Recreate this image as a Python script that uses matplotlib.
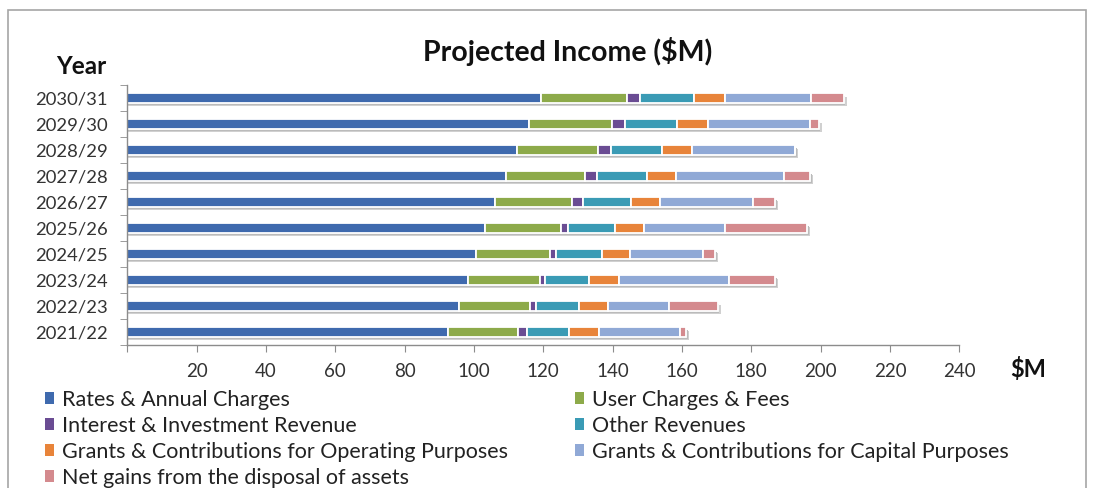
import matplotlib
matplotlib.use("Agg")
import matplotlib.pyplot as plt
from matplotlib.patches import Rectangle, Patch
import numpy as np

plt.rcParams['font.family'] = ['Lato', 'DejaVu Sans']

years = ["2021/22", "2022/23", "2023/24", "2024/25", "2025/26",
         "2026/27", "2027/28", "2028/29", "2029/30", "2030/31"]

rates_annual = [92.6, 95.8, 98.2, 100.6, 103.3, 106.1, 109.3, 112.4, 115.8, 119.3]
user_charges = [20.2, 20.4, 20.8, 21.4, 21.9, 22.3, 22.8, 23.4, 23.9, 24.7]
interest_inv = [2.4, 1.6, 1.4, 1.8, 2.0, 3.0, 3.5, 3.6, 3.8, 4.0]
other_rev = [12.3, 12.4, 12.8, 13.1, 13.6, 13.9, 14.2, 14.7, 15.1, 15.5]
grants_operating = [8.7, 8.5, 8.6, 8.0, 8.2, 8.4, 8.6, 8.8, 8.9, 9.0]
grants_capital = [23.2, 17.7, 31.7, 21.2, 23.3, 26.8, 31.0, 29.8, 29.4, 24.8]
net_gains = [1.7, 13.9, 13.3, 3.4, 23.7, 6.3, 7.5, 0.0, 2.5, 9.3]

series_names = ["Rates & Annual Charges", "User Charges & Fees",
                "Interest & Investment Revenue", "Other Revenues",
                "Grants & Contributions for Operating Purposes",
                "Grants & Contributions for Capital Purposes",
                "Net gains from the disposal of assets"]
series_values = [rates_annual, user_charges, interest_inv, other_rev,
                 grants_operating, grants_capital, net_gains]
colors = ["#3F6AAE", "#8DAA4A", "#6A4C93", "#3A9BB5",
          "#E8843A", "#90A9D6", "#D48A8E"]

x_ticks = [20, 40, 60, 80, 100, 120, 140, 160, 180, 200, 220, 240]

W, H = 1094, 488
fig = plt.figure(figsize=(W / 100, H / 100), dpi=100)
ax = fig.add_axes([127.3 / W, 1 - 345 / H, (959.3 - 127.3) / W, (345 - 85) / H])

y = np.arange(len(years))
bar_h = 0.37

# soft drop shadow under each stacked bar
totals = np.sum(np.array(series_values), axis=0)
ax.barh(y - 0.13, totals + 0.6, height=bar_h, left=0.3, color="#D0D0D0",
        edgecolor="none", zorder=1)
ax.barh(y - 0.09, totals + 0.3, height=bar_h, left=0.2, color="#BBBBBB",
        edgecolor="none", zorder=1)

left = np.zeros(len(years))
for name, vals, col in zip(series_names, series_values, colors):
    vals = np.array(vals)
    ax.barh(y, vals, left=left, height=bar_h, color=col,
            edgecolor="white", linewidth=1.3, zorder=2, label=name)
    left += vals

ax.set_xlim(0, 240)
ax.set_ylim(-0.5, len(years) - 0.5)
ax.set_xticks([0] + x_ticks)
ax.set_xticklabels([""] + [str(t) for t in x_ticks])
ax.set_yticks(y)
ax.set_yticklabels(years)
ax.set_yticks(np.arange(-0.5, len(years)), minor=True)

axis_col = "#8C8C8C"
for s in ["top", "right"]:
    ax.spines[s].set_visible(False)
for s in ["left", "bottom"]:
    ax.spines[s].set_color(axis_col)
    ax.spines[s].set_linewidth(1.0)
ax.tick_params(axis="x", direction="out", length=5, color=axis_col,
               labelsize=13.5, labelcolor="#333333", pad=8)
ax.tick_params(axis="y", which="major", length=0, labelsize=13.3,
               labelcolor="#333333", pad=14)
ax.tick_params(axis="y", which="minor", length=5, color=axis_col,
               direction="out")

fig.text(568 / W, 1 - 52 / H, "Projected Income ($M)", ha="center",
         va="center", fontsize=20.5, fontweight="bold", color="#111111")
fig.text(81 / W, 1 - 66 / H, "Year", ha="center", va="center",
         fontsize=17.5, fontweight="bold", color="#111111")
fig.text(1028 / W, 1 - 369 / H, "$M", ha="center", va="center",
         fontsize=17, fontweight="bold", color="#111111")

# legend in two columns, filled row by row
order = [0, 2, 4, 6, 1, 3, 5]
handles = [Patch(facecolor=colors[i], edgecolor="none") for i in order]
labels = [series_names[i] for i in order]
fig.legend(handles, labels, loc="upper left",
           bbox_to_anchor=(36 / W, 1 - 381 / H), ncol=2, frameon=False,
           fontsize=15.5, handlelength=0.45, handleheight=0.45,
           handletextpad=0.35, columnspacing=3.1, labelspacing=0.28,
           borderaxespad=0, labelcolor="#222222")

# outer chart frame
fig.patches.append(Rectangle((8 / W, -0.1), (1086 - 8) / W, 1.1 - 10 / H,
                             transform=fig.transFigure, fill=False,
                             edgecolor="#A6A6A6", linewidth=1.2))

fig.savefig("out.png", dpi=100)
